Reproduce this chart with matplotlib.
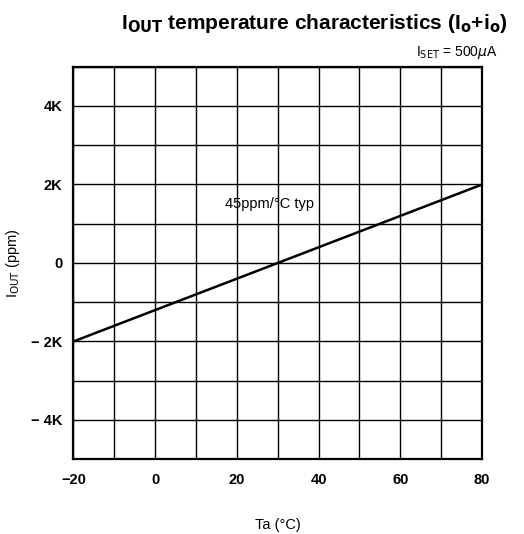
import matplotlib
matplotlib.use('Agg')
import matplotlib.pyplot as plt
import numpy as np

# output current drift vs ambient temperature
temp = [-20, 80]
iout_ppm = [-2000, 2000]

x_ticks = [-20, 0, 20, 40, 60, 80]
y_ticks = [-4000, -2000, 0, 2000, 4000]
y_tick_labels = ['\u2212 4K', '\u2212 2K', '0', '2K', '4K']

plt.rcParams['font.family'] = ['Liberation Sans', 'DejaVu Sans']

fig = plt.figure(figsize=(5.24, 5.34), dpi=100)
ax = fig.add_axes([0.14, 0.14, 0.78, 0.735])

ax.plot(temp, iout_ppm, color='black', linewidth=1.8)

ax.set_xlim(-20, 80)
ax.set_ylim(-5000, 5000)
ax.set_xticks(x_ticks)
ax.set_yticks(y_ticks)
ax.set_yticklabels(y_tick_labels)
ax.set_xticks(np.arange(-10, 81, 20), minor=True)
ax.set_yticks(np.arange(-5000, 5001, 2000), minor=True)
ax.grid(which='both', color='black', linewidth=1.0)
ax.tick_params(which='both', length=0)
ax.tick_params(axis='x', pad=10, labelsize=10.5)
ax.tick_params(axis='y', pad=8, labelsize=10.5)
for lbl in ax.get_xticklabels() + ax.get_yticklabels():
    lbl.set_fontweight('bold')
for s in ax.spines.values():
    s.set_linewidth(1.6)

ax.text(17, 1500, '45ppm/\u00b0C typ', fontsize=10.5, va='center', ha='left')

ax.set_xlabel('Ta (\u00b0C)', fontsize=10.5, labelpad=22)
ax.set_ylabel(r'I$_{\rm OUT}$ (ppm)', fontsize=10.5, labelpad=6)

fig.text(0.95, 0.885, r'I$_{\rm SET}$ = 500$\mu$A', fontsize=10, ha='right', va='bottom')
fig.text(0.6, 0.935, r'I$_{\rm \mathbf{OUT}}$ temperature characteristics (I$_{\rm \mathbf{o}}$+i$_{\rm \mathbf{o}}$)',
         fontsize=15, fontweight='bold', ha='center', va='bottom')

fig.savefig('out.png', dpi=100)
